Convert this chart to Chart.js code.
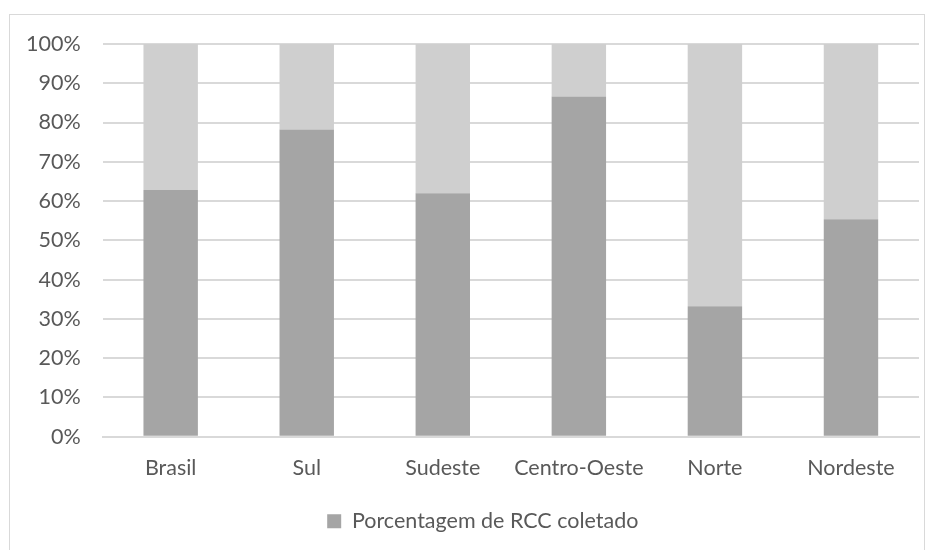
<!DOCTYPE html>
<html>
<head>
<meta charset="utf-8">
<script src="https://cdn.jsdelivr.net/npm/chart.js@4/dist/chart.umd.min.js"></script>
<style>
  html, body { margin: 0; padding: 0; background: #fff; }
  #wrap { position: relative; width: 933px; height: 550px; }
</style>
</head>
<body>
<div id="wrap"><canvas id="c" width="933" height="550"></canvas></div>
<script>
// Regions and share of construction waste (RCC) collected, in percent
const regioes = ['Brasil', 'Sul', 'Sudeste', 'Centro-Oeste', 'Norte', 'Nordeste'];
const coletado = [62.8, 78.2, 62.0, 86.6, 33.2, 55.4];
const restante = coletado.map(v => 100 - v);
const yTicks = [0, 10, 20, 30, 40, 50, 60, 70, 80, 90, 100];

const FONT = 'Lato, "Open Sans", sans-serif';
const FS = 21.5;

// light frame around the whole chart
const frame = {
  id: 'frame',
  beforeDraw(chart) {
    const ctx = chart.ctx;
    ctx.save();
    ctx.fillStyle = '#fff';
    ctx.fillRect(0, 0, chart.width, chart.height);
    ctx.strokeStyle = '#d9d9d9';
    ctx.lineWidth = 1;
    ctx.strokeRect(9.5, 14.5, 915, 600);
    ctx.restore();
  }
};

// centre the legend under the plot area rather than the whole canvas
const legendUnderPlot = {
  id: 'legendUnderPlot',
  afterLayout(chart) {
    const lg = chart.legend, area = chart.chartArea;
    if (!lg) return;
    const shift = (area.left + area.right) / 2 - (lg.left + lg.right) / 2 - 28;
    lg.left += shift;
    lg.right += shift;
  }
};

new Chart(document.getElementById('c'), {
  type: 'bar',
  data: {
    labels: regioes,
    datasets: [
      { label: 'Porcentagem de RCC coletado', data: coletado, backgroundColor: '#a5a5a5' },
      { label: 'Restante', data: restante, backgroundColor: '#cfcfcf' }
    ]
  },
  options: {
    responsive: false,
    animation: false,
    layout: { padding: { left: 4, right: 14, top: 44, bottom: 8 } },
    datasets: { bar: { categoryPercentage: 1, barPercentage: 0.4 } },
    scales: {
      x: {
        stacked: true,
        grid: { display: false, drawTicks: false },
        border: { color: '#d9d9d9', width: 2 },
        ticks: { color: '#595959', font: { family: FONT, size: FS }, padding: 18 }
      },
      y: {
        stacked: true,
        min: 0, max: 100,
        afterBuildTicks(axis) { axis.ticks = yTicks.map(v => ({ value: v })); },
        grid: { color: '#d9d9d9', lineWidth: 2, drawTicks: false },
        border: { display: false },
        ticks: {
          color: '#595959', font: { family: FONT, size: FS }, padding: 22,
          callback: v => v + '%'
        }
      }
    },
    plugins: {
      legend: {
        position: 'bottom',
        labels: {
          filter: item => item.datasetIndex === 0,
          boxWidth: 14, boxHeight: 14, padding: 12,
          color: '#595959', font: { family: FONT, size: FS }
        }
      },
      tooltip: { enabled: false }
    }
  },
  plugins: [frame, legendUnderPlot]
});
</script>
</body>
</html>
